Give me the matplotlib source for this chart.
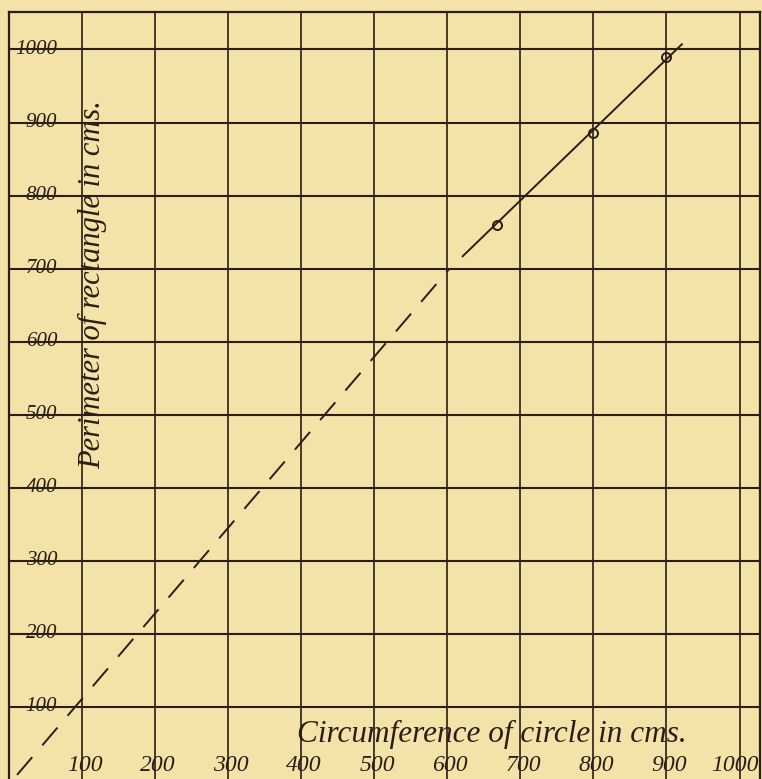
import matplotlib
matplotlib.use("Agg")
import matplotlib.pyplot as plt

# ---- data ----
circumference = [668, 800, 900]          # observed points (x)
perimeter = [760, 885, 990]              # observed points (y)
fit_x = [620, 922]                       # solid fitted line ends
fit_y = [716, 1008]
extrap_x = [11, 603]                     # dashed extrapolation towards origin
extrap_y = [7, 700]
x_ticks = [100, 200, 300, 400, 500, 600, 700, 800, 900, 1000]
y_ticks = [100, 200, 300, 400, 500, 600, 700, 800, 900, 1000]
x_title = "Circumference of circle in cms."
y_title = "Perimeter of rectangle in cms."

paper = "#F3E3A9"
ink = "#2A1E16"
serif = ["Liberation Serif", "DejaVu Serif"]

W, H = 762, 779
fig = plt.figure(figsize=(W / 100, H / 100), dpi=100, facecolor=paper)
ax = fig.add_axes([9 / W, 0, 751 / W, 767 / H])
ax.set_facecolor(paper)
ax.set_xlim(0, 1028)
ax.set_ylim(1.4, 1051.3)

ax.set_xticks(x_ticks)
ax.set_yticks(y_ticks)
ax.tick_params(length=0, labelbottom=False, labelleft=False)
ax.grid(True, axis="x", color=ink, linewidth=1.2)
ax.grid(True, axis="y", color=ink, linewidth=1.5)
ax.set_axisbelow(True)
for side in ["left", "right", "top"]:
    ax.spines[side].set_color(ink)
    ax.spines[side].set_linewidth(1.6)
ax.spines["bottom"].set_visible(False)

# fitted line and extrapolation
ax.plot(fit_x, fit_y, color=ink, linewidth=1.4, solid_capstyle="butt", zorder=3)
ax.plot(extrap_x, extrap_y, color=ink, linewidth=1.4, linestyle=(0, (12, 8)),
        solid_capstyle="butt", dash_capstyle="butt", zorder=3)
ax.plot(circumference, perimeter, linestyle="none", marker="o", markersize=6.5,
        markerfacecolor="none", markeredgecolor=ink, markeredgewidth=1.4, zorder=4)

# tick labels drawn inside the grid, as on the original sheet
for v in y_ticks:
    ax.text(66, v, str(v), ha="right", va="center", fontsize=15, style="italic",
            family=serif, color=ink, zorder=5)
for v in x_ticks:
    if v == 1000:
        ax.text(1026, 20, str(v), ha="right", va="center", fontsize=17,
                style="italic", family=serif, color=ink, clip_on=False, zorder=5)
    else:
        ax.text(v + 4, 20, str(v), ha="center", va="center", fontsize=17,
                style="italic", family=serif, color=ink, clip_on=False, zorder=5)

ax.text(394, 62, x_title, ha="left", va="center", fontsize=22.5, style="italic",
        family=serif, color=ink, zorder=5)
ax.text(115, 678, y_title, ha="center", va="center", rotation=90, fontsize=22,
        style="italic", family=serif, color=ink, zorder=5)

fig.savefig("out.png", dpi=100, facecolor=paper)
